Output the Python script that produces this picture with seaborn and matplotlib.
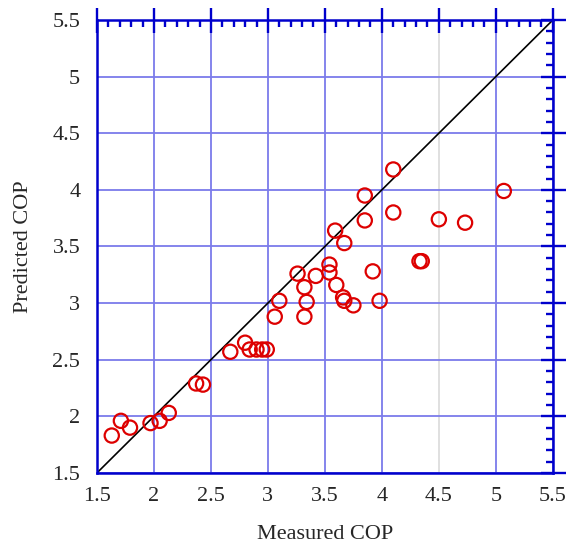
import numpy as np
import pandas as pd
import matplotlib
matplotlib.use("Agg")
import matplotlib.pyplot as plt
from matplotlib.ticker import MultipleLocator, FormatStrFormatter
import seaborn as sns

# measured vs predicted COP
measured = [1.63, 1.71, 1.79, 1.97, 2.05, 2.13, 2.37, 2.43, 2.67, 2.80,
            2.84, 2.90, 2.95, 2.99, 3.06, 3.10, 3.26, 3.32, 3.32, 3.34,
            3.42, 3.54, 3.54, 3.60, 3.59, 3.67, 3.66, 3.67, 3.75, 3.85,
            3.85, 3.92, 3.98, 4.10, 4.10, 4.33, 4.35, 4.50, 4.73, 5.07]
predicted = [1.83, 1.96, 1.90, 1.94, 1.96, 2.03, 2.29, 2.28, 2.57, 2.65,
             2.59, 2.59, 2.59, 2.59, 2.88, 3.02, 3.26, 3.14, 2.88, 3.01,
             3.24, 3.34, 3.27, 3.16, 3.64, 3.53, 3.05, 3.02, 2.98, 3.95,
             3.73, 3.28, 3.02, 4.18, 3.80, 3.37, 3.37, 3.74, 3.71, 3.99]
lims = [1.5, 5.5]

df = pd.DataFrame({"Measured COP": measured, "Predicted COP": predicted})

sns.set_style("white")
plt.rcParams["font.family"] = ["Liberation Serif", "DejaVu Serif"]

fig = plt.figure(figsize=(5.67, 5.48), dpi=100)
ax = fig.add_axes([0.171, 0.137, 0.804, 0.8265])

ax.plot(lims, lims, color="black", lw=1.2, zorder=2)
sns.scatterplot(data=df, x="Measured COP", y="Predicted COP", ax=ax,
                marker="o", s=105, facecolors="none", edgecolor="#dd0000",
                linewidth=1.6, zorder=3)

ax.set_xlim(lims)
ax.set_ylim(lims)
for axis in (ax.xaxis, ax.yaxis):
    axis.set_major_locator(MultipleLocator(0.5))
    axis.set_minor_locator(MultipleLocator(0.1))
    axis.set_major_formatter(FormatStrFormatter("%g"))

ax.grid(True, which="major", color="#7b7bea", lw=1.3)
ax.xaxis.get_gridlines()[7].set_color("#dddddd")
ax.set_axisbelow(True)

blue = "#0000cc"
for sp in ax.spines.values():
    sp.set_color(blue)
    sp.set_linewidth(1.8)
    sp.set_zorder(4)
ax.tick_params(which="major", direction="inout", length=18, width=1.7,
               color=blue, top=True, right=True, labelsize=16, pad=1)
ax.tick_params(axis="y", which="major", pad=3)
ax.tick_params(which="minor", direction="in", length=5, width=1.7,
               color=blue, top=True, right=True)

ax.set_xlabel("Measured COP", fontsize=16, labelpad=14)
ax.set_ylabel("Predicted COP", fontsize=16, labelpad=14)

fig.savefig("out.png", dpi=100)
